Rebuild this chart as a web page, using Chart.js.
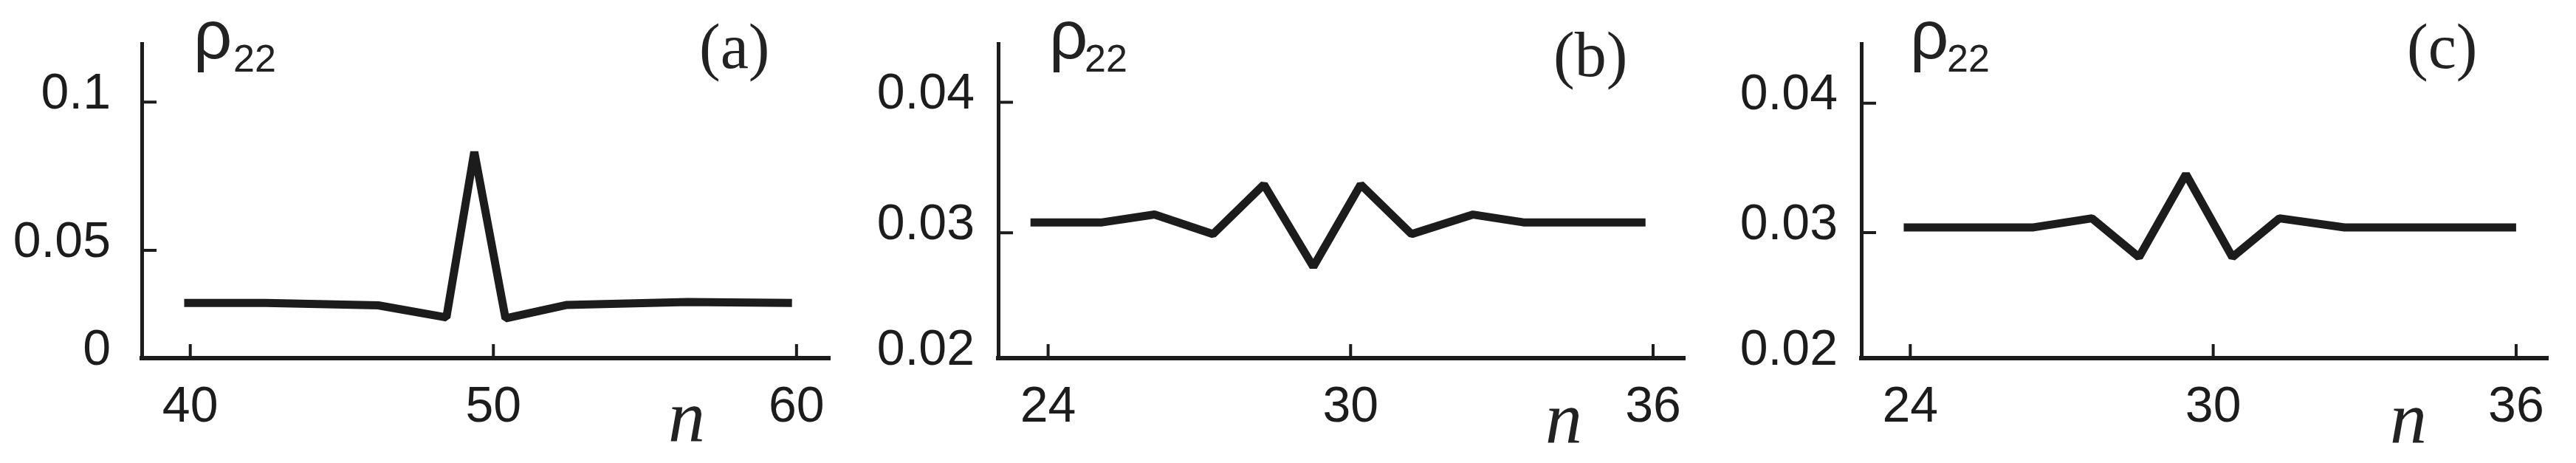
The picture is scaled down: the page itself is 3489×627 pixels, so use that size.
<!DOCTYPE html>
<html>
<head>
<meta charset="utf-8">
<script src="https://cdn.jsdelivr.net/npm/chart.js@4.4.1/dist/chart.umd.min.js"></script>
<style>
  html, body { margin: 0; padding: 0; background: #fff; }
  body { width: 3489px; height: 627px; position: relative; overflow: hidden; }
  .panel { position: absolute; top: 0; height: 627px; }
  .txt { position: absolute; line-height: 1; white-space: nowrap; color: #222; }
  .rho { font-family: 'Liberation Sans', Arial, sans-serif; font-size: 92px; }
  .sub { font-family: 'Liberation Sans', Arial, sans-serif; font-size: 52px; }
  .tag { font-family: 'Liberation Serif', 'Times New Roman', serif; font-size: 86px; }
  .nlab { font-family: 'Liberation Serif', 'Times New Roman', serif; font-style: italic; font-size: 100px; }
</style>
</head>
<body>
<div class="panel" style="left:0;width:1160px"><canvas id="chartA"></canvas></div>
<div class="panel" style="left:1160px;width:1160px"><canvas id="chartB"></canvas></div>
<div class="panel" style="left:2320px;width:1169px"><canvas id="chartC"></canvas></div>

<!-- axis titles and panel tags -->
<div class="txt rho" style="left:262px;top:1px">ρ</div>
<div class="txt sub" style="left:316px;top:53px">22</div>
<div class="txt tag" style="left:947px;top:20px">(a)</div>
<div class="txt nlab" style="left:905px;top:514px">n</div>

<div class="txt rho" style="left:1421px;top:1px">ρ</div>
<div class="txt sub" style="left:1469px;top:53px">22</div>
<div class="txt tag" style="left:2104px;top:31px">(b)</div>
<div class="txt nlab" style="left:2093px;top:516px">n</div>

<div class="txt rho" style="left:2587px;top:1px">ρ</div>
<div class="txt sub" style="left:2637px;top:53px">22</div>
<div class="txt tag" style="left:3260px;top:20px">(c)</div>
<div class="txt nlab" style="left:3237px;top:516px">n</div>

<script>
// ---- data ----
// panel (a)
const nA = [39.8, 42.5, 46.2, 48.45, 49.37, 50.4, 52.4, 56.4, 59.85];
const rhoA = [0.0323, 0.0323, 0.0315, 0.0274, 0.0832, 0.0271, 0.0316, 0.0326, 0.0323];
const xTicksA = [40, 50, 60];
const yTicksA = [0.0137, 0.05, 0.1];
const yLabelsA = ['0', '0.05', '0.1'];

// panel (b)
const nB = [23.65, 25.07, 26.11, 27.27, 28.28, 29.26, 30.2, 31.21, 32.43, 33.43, 35.85];
const rhoB = [0.0308, 0.0308, 0.0314, 0.0299, 0.0337, 0.0274, 0.0337, 0.0299, 0.0314, 0.0308, 0.0308];
const xTicksB = [24, 30, 36];
const yTicksB = [0.0204, 0.03, 0.04];
const yLabelsB = ['0.02', '0.03', '0.04'];

// panel (c)
const nC = [23.87, 26.44, 27.6, 28.53, 29.46, 30.38, 31.31, 32.6, 36.0];
const rhoC = [0.0304, 0.0304, 0.0311, 0.0281, 0.0345, 0.0281, 0.0311, 0.0304, 0.0304];
const xTicksC = [24, 30, 36];
const yTicksC = [0.0203, 0.03, 0.04];
const yLabelsC = ['0.02', '0.03', '0.04'];

const INK = '#1c1c1c';

// tick marks pointing into the plot
const innerTicks = {
    id: 'innerTicks',
    afterDraw(chart) {
        const { ctx, chartArea, scales: { x, y } } = chart;
        ctx.save();
        ctx.strokeStyle = INK;
        ctx.lineWidth = 4;
        ctx.beginPath();
        x.ticks.forEach(t => {
            const px = x.getPixelForValue(t.value);
            ctx.moveTo(px, chartArea.bottom);
            ctx.lineTo(px, chartArea.bottom - 19);
        });
        y.ticks.forEach((t, i) => {
            if (i === 0) return;
            const py = y.getPixelForValue(t.value);
            ctx.moveTo(chartArea.left, py);
            ctx.lineTo(chartArea.left + 20, py);
        });
        ctx.stroke();
        ctx.restore();
    }
};

function makePanel(id, n, rho, cfg) {
    const points = n.map((v, i) => ({ x: v, y: rho[i] }));
    return new Chart(document.getElementById(id), {
        type: 'line',
        data: {
            datasets: [{
                data: points,
                borderColor: INK,
                borderWidth: 11,
                borderJoinStyle: 'bevel',
                borderCapStyle: 'butt',
                pointRadius: 0,
                tension: 0,
                clip: false
            }]
        },
        options: {
            responsive: true,
            maintainAspectRatio: false,
            animation: false,
            events: [],
            layout: { padding: { top: 59, right: cfg.rightPad, bottom: 0, left: 0 } },
            plugins: { legend: { display: false }, tooltip: { enabled: false } },
            scales: {
                x: {
                    type: 'linear',
                    min: cfg.xMin,
                    max: cfg.xMax,
                    grid: { display: false, drawTicks: false },
                    border: { display: true, color: INK, width: 6 },
                    ticks: {
                        color: INK,
                        font: { family: 'Liberation Sans', size: 68 },
                        padding: 26,
                        maxRotation: 0,
                        callback: v => String(v)
                    },
                    afterBuildTicks: s => { s.ticks = cfg.xTicks.map(v => ({ value: v })); },
                    afterFit: s => { s.height = 142; s.paddingLeft = 0; s.paddingRight = 0; }
                },
                y: {
                    type: 'linear',
                    min: cfg.yMin,
                    max: cfg.yMax,
                    grid: { display: false, drawTicks: false },
                    border: { display: true, color: INK, width: 5 },
                    ticks: {
                        color: INK,
                        font: { family: 'Liberation Sans', size: 68 },
                        padding: cfg.labelPad,
                        labelOffset: -10,
                        callback: (v, i) => cfg.yLabels[i]
                    },
                    afterBuildTicks: s => { s.ticks = cfg.yTicks.map(v => ({ value: v })); },
                    afterFit: s => { s.width = cfg.axisW; s.paddingTop = 0; s.paddingBottom = 0; }
                }
            }
        },
        plugins: [innerTicks]
    });
}

makePanel('chartA', nA, rhoA, {
    xMin: 38.4, xMax: 61.1, xTicks: xTicksA,
    yMin: 0.0137, yMax: 0.1197, yTicks: yTicksA, yLabels: yLabelsA,
    axisW: 192, rightPad: 36, labelPad: 42
});
makePanel('chartB', nB, rhoB, {
    xMin: 23.01, xMax: 36.63, xTicks: xTicksB,
    yMin: 0.0204, yMax: 0.0445, yTicks: yTicksB, yLabels: yLabelsB,
    axisW: 192, rightPad: 38, labelPad: 32
});
makePanel('chartC', nC, rhoC, {
    xMin: 23.03, xMax: 36.63, xTicks: xTicksC,
    yMin: 0.0203, yMax: 0.0446, yTicks: yTicksC, yLabels: yLabelsC,
    axisW: 201, rightPad: 38, labelPad: 32
});
</script>
</body>
</html>
